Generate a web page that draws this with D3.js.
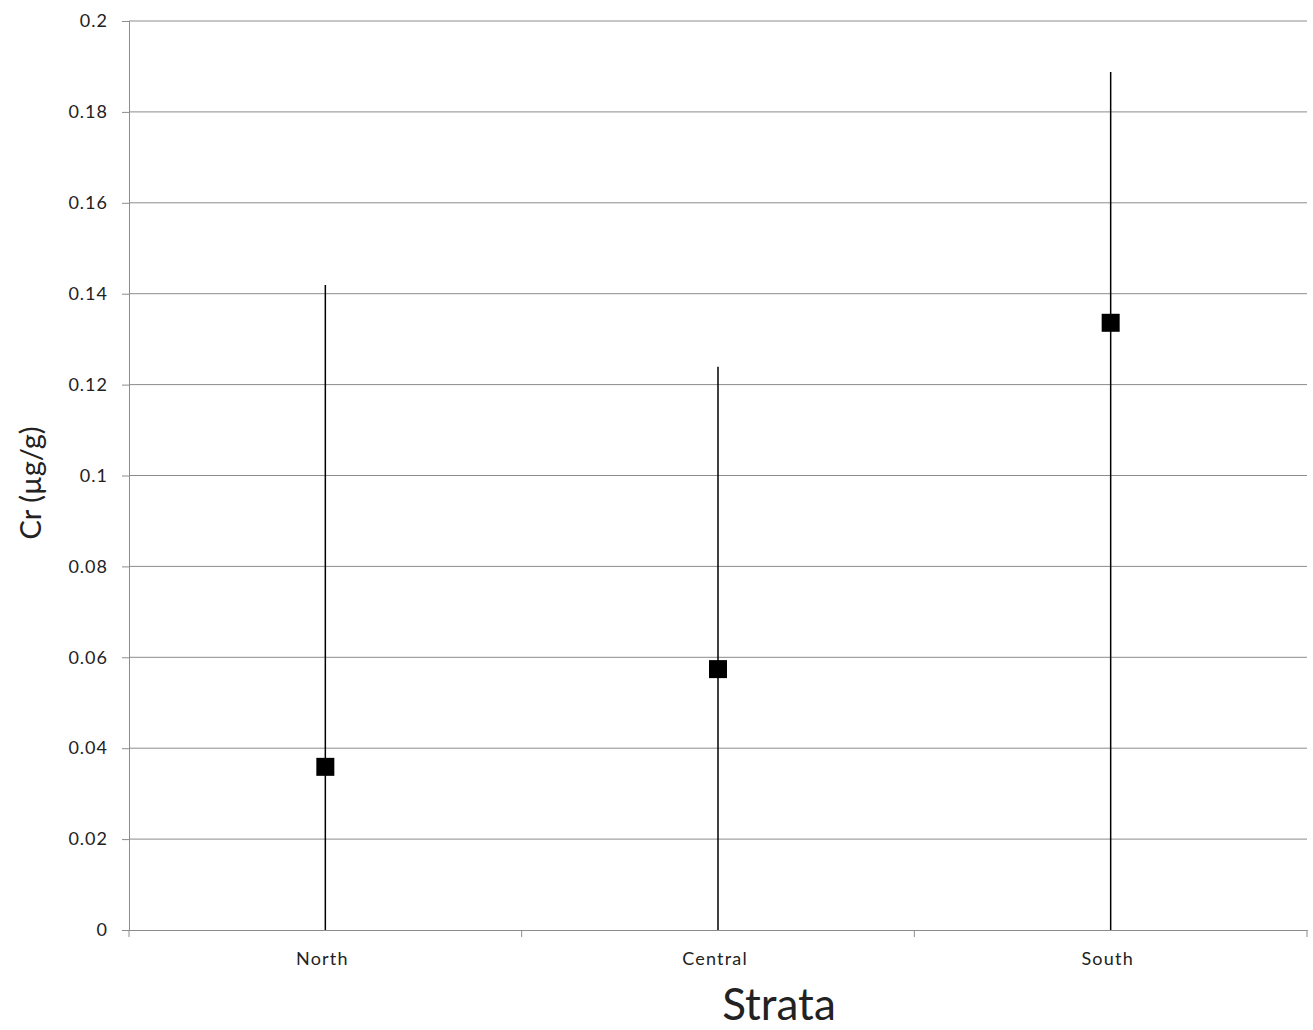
<!DOCTYPE html>
<html>
<head>
<meta charset="utf-8">
<script src="https://cdn.jsdelivr.net/npm/d3@7"></script>
<style>
  body { margin: 0; background: #fff; }
  text { font-family: Lato, "Open Sans", sans-serif; fill: #222; }
</style>
</head>
<body>
<script>
const categories = ["North", "Central", "South"];
const means = [0.0359, 0.0574, 0.1336];
const lower = [0, 0, 0];
const upper = [0.1419, 0.1239, 0.1888];
const yTicks = [0, 0.02, 0.04, 0.06, 0.08, 0.1, 0.12, 0.14, 0.16, 0.18, 0.2];

const width = 1313, height = 1030;
const margin = { top: 21, right: 6, bottom: 100, left: 129 };

const svg = d3.select("body").append("svg").attr("width", width).attr("height", height);

const x = d3.scaleBand().domain(categories).range([margin.left, width - margin.right]);
const y = d3.scaleLinear().domain([0, 0.2]).range([height - margin.bottom, margin.top]);

// gridlines
svg.append("g")
  .selectAll("line")
  .data(yTicks.slice(1))
  .join("line")
  .attr("x1", margin.left).attr("x2", width - margin.right)
  .attr("y1", d => y(d)).attr("y2", d => y(d))
  .attr("stroke", "#8c8c8c").attr("stroke-width", 1);

// y axis
const yAxis = svg.append("g")
  .attr("transform", `translate(${margin.left},0)`)
  .call(d3.axisLeft(y).tickValues(yTicks).tickSize(7).tickPadding(14).tickFormat(d => String(d)));
yAxis.select(".domain").attr("stroke", "#8c8c8c");
yAxis.selectAll(".tick line").attr("stroke", "#8c8c8c");
yAxis.selectAll("text").attr("font-size", 18).attr("letter-spacing", 1).style("fill", "#222");

// x axis
const xAxis = svg.append("g")
  .attr("transform", `translate(0,${y(0)})`)
  .call(d3.axisBottom(x).tickSize(0).tickPadding(22));
xAxis.select(".domain").attr("stroke", "#8c8c8c");
xAxis.selectAll(".tick line").remove();
xAxis.selectAll("text").attr("font-size", 18).attr("letter-spacing", 1.2).style("fill", "#222").attr("dx", -3);
// boundary ticks between categories
const bounds = categories.map(c => x(c)).concat([x.range()[1]]);
xAxis.selectAll(".btick")
  .data(bounds)
  .join("line")
  .attr("class", "btick")
  .attr("x1", d => d).attr("x2", d => d)
  .attr("y1", 0).attr("y2", 7)
  .attr("stroke", "#8c8c8c");

// error bars
const data = categories.map((c, i) => ({ c, m: means[i], lo: lower[i], hi: upper[i] }));
svg.append("g")
  .selectAll("line")
  .data(data)
  .join("line")
  .attr("x1", d => x(d.c) + x.bandwidth() / 2)
  .attr("x2", d => x(d.c) + x.bandwidth() / 2)
  .attr("y1", d => y(d.lo)).attr("y2", d => y(d.hi))
  .attr("stroke", "#000").attr("stroke-width", 1.5);

// markers
const s = 18;
svg.append("g")
  .selectAll("rect")
  .data(data)
  .join("rect")
  .attr("x", d => x(d.c) + x.bandwidth() / 2 - s / 2)
  .attr("y", d => y(d.m) - s / 2)
  .attr("width", s).attr("height", s)
  .attr("fill", "#000");

// axis titles
svg.append("text")
  .attr("x", 779)
  .attr("y", 1020)
  .attr("text-anchor", "middle")
  .attr("font-size", 44)
  .text("Strata");

svg.append("text")
  .attr("transform", `translate(41,483) rotate(-90)`)
  .attr("text-anchor", "middle")
  .attr("font-size", 29)
  .text("Cr (µg/g)");
</script>
</body>
</html>
